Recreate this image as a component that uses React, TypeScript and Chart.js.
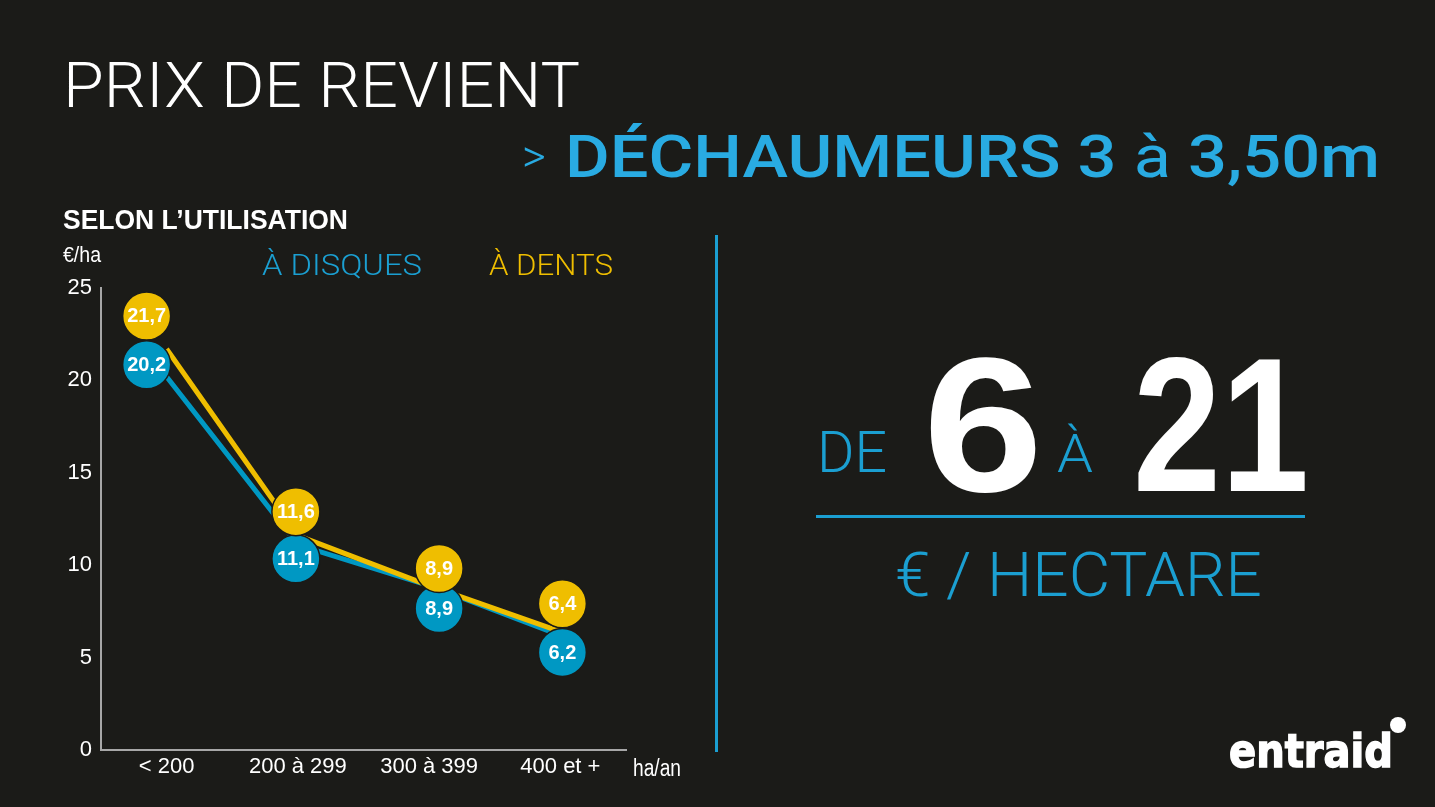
import React, { useEffect, useRef } from "react";
import { Chart, registerables } from "chart.js";

Chart.register(...registerables);

// ---- data ----
const categories = ["< 200", "200 à 299", "300 à 399", "400 et +"];
const seriesNames = ["À DISQUES", "À DENTS"];
const disquesValues = [20.2, 11.1, 8.9, 6.2];
const dentsValues = [21.7, 11.6, 8.9, 6.4];
const yTickValues = [0, 5, 10, 15, 20, 25];
const yUnit = "€/ha";
const xUnit = "ha/an";

// ---- styles ----
const BG = "#1b1b18";
const BLUE = "#0098c3";
const YELLOW = "#efbe00";
const CYAN = "#29abe2";
const BLUE_TXT = "#1b9fd1";
const AXIS = "#a7a7a7";
const NARROW = "'Liberation Sans Narrow', 'Arial Narrow', sans-serif";
const LIGHT = "Roboto, Lato, sans-serif";
const HEAVY = "'Liberation Sans', Arial, sans-serif";

// bubble label pixel offsets relative to each data point
const dentsBubbleOffset = [[-20, -33], [-2, -24], [10, -17], [2, -28]];
const disquesBubbleOffset = [[-20, -12], [-2, 14], [10, 23], [2, 17]];

const bubblePlugin = {
  id: "bubbles",
  afterDatasetsDraw(chart: any) {
    const ctx = chart.ctx;
    const offsets = [dentsBubbleOffset, disquesBubbleOffset];
    // draw blue first, yellow on top
    [1, 0].forEach((di) => {
      const meta = chart.getDatasetMeta(di);
      const ds = chart.data.datasets[di];
      meta.data.forEach((pt: any, i: number) => {
        const [dx, dy] = offsets[di][i];
        const cx = pt.x + dx;
        const cy = pt.y + dy;
        ctx.save();
        ctx.beginPath();
        ctx.arc(cx, cy, 24, 0, Math.PI * 2);
        ctx.fillStyle = ds.borderColor;
        ctx.fill();
        ctx.lineWidth = 1.5;
        ctx.strokeStyle = BG;
        ctx.stroke();
        ctx.fillStyle = "#ffffff";
        ctx.font = `bold 20px ${NARROW}`;
        ctx.textAlign = "center";
        ctx.textBaseline = "middle";
        const v = ds.data[i] as number;
        ctx.fillText(v.toFixed(1).replace(".", ","), cx, cy + 1);
        ctx.restore();
      });
    });
  },
};

function LineChart() {
  const ref = useRef<HTMLCanvasElement | null>(null);
  useEffect(() => {
    if (!ref.current) return;
    const chart = new Chart(ref.current, {
      type: "line",
      data: {
        labels: categories,
        datasets: [
          {
            label: seriesNames[1],
            data: dentsValues,
            borderColor: YELLOW,
            backgroundColor: YELLOW,
            borderWidth: 5,
            pointRadius: 0,
            tension: 0,
          },
          {
            label: seriesNames[0],
            data: disquesValues,
            borderColor: BLUE,
            backgroundColor: BLUE,
            borderWidth: 5,
            pointRadius: 0,
            tension: 0,
          },
        ],
      },
      options: {
        responsive: false,
        animation: false,
        devicePixelRatio: 1,
        layout: { padding: { left: 0, top: 288, right: 809, bottom: 0 } },
        plugins: {
          legend: { display: false },
          tooltip: { enabled: false },
        },
        scales: {
          x: {
            type: "category",
            offset: true,
            grid: { display: false, drawTicks: false },
            border: { display: true, color: AXIS, width: 2 },
            ticks: {
              color: "#ffffff",
              font: { family: NARROW, size: 22 },
              padding: 4,
              maxRotation: 0,
            },
            afterFit: (s: any) => {
              s.height = 57;
            },
          },
          y: {
            min: 0,
            max: 25,
            grid: { display: false, drawTicks: false },
            border: { display: true, color: AXIS, width: 2 },
            ticks: {
              color: "#ffffff",
              font: { family: NARROW, size: 22 },
              padding: 9,
              stepSize: 5,
            },
            afterBuildTicks: (s: any) => {
              s.ticks = yTickValues.map((v) => ({ value: v }));
            },
            afterFit: (s: any) => {
              s.width = 101;
            },
          },
        },
      },
      plugins: [bubblePlugin],
    } as any);
    return () => chart.destroy();
  }, []);
  return (
    <canvas
      ref={ref}
      width={1435}
      height={807}
      style={{ position: "absolute", left: 0, top: 0, width: 1435, height: 807 }}
    />
  );
}

export default function App() {
  return (
    <div
      style={{
        position: "fixed",
        left: 0,
        top: 0,
        width: 1435,
        height: 807,
        background: BG,
        overflow: "hidden",
      }}
    >
      <LineChart />
      <svg
        width={1435}
        height={807}
        style={{ position: "absolute", left: 0, top: 0, pointerEvents: "none" }}
      >
        <text x={63} y={107} fill="#ffffff" fontFamily={LIGHT} fontWeight={300} fontSize={63}
          textLength={517} lengthAdjust="spacingAndGlyphs">PRIX DE REVIENT</text>
        <text x={522} y={172} fill={CYAN} fontFamily={LIGHT} fontWeight={300} fontSize={46}>&gt;</text>
        <text x={565} y={177} fill={CYAN} fontFamily={LIGHT} fontWeight={500} fontSize={60}
          textLength={815} lengthAdjust="spacingAndGlyphs">
          <tspan>DÉCHAUMEURS 3 </tspan>
          <tspan fontWeight={400}>à</tspan>
          <tspan> 3,50m</tspan>
        </text>
        <text x={63} y={229} fill="#ffffff" fontFamily={NARROW} fontWeight={700} fontSize={27}
          textLength={285} lengthAdjust="spacingAndGlyphs">SELON L’UTILISATION</text>
        <text x={63} y={262} fill="#ffffff" fontFamily={NARROW} fontSize={22}
          textLength={38} lengthAdjust="spacingAndGlyphs">{yUnit}</text>
        <text x={262} y={275} fill={BLUE_TXT} fontFamily={LIGHT} fontWeight={300} fontSize={30}
          textLength={160} lengthAdjust="spacingAndGlyphs">{seriesNames[0]}</text>
        <text x={489} y={275} fill={YELLOW} fontFamily={LIGHT} fontWeight={300} fontSize={30}
          textLength={124} lengthAdjust="spacingAndGlyphs">{seriesNames[1]}</text>
        <text x={633} y={776} fill="#ffffff" fontFamily={NARROW} fontSize={23}
          textLength={48} lengthAdjust="spacingAndGlyphs">{xUnit}</text>

        <rect x={715} y={235} width={3} height={517} fill={BLUE_TXT} />
        <text x={817} y={472} fill={BLUE_TXT} fontFamily={LIGHT} fontWeight={300} fontSize={58}
          textLength={70} lengthAdjust="spacingAndGlyphs">DE</text>
        <text x={923} y={491} fill="#ffffff" fontFamily={HEAVY} fontWeight={700}
          fontSize={192} textLength={120} lengthAdjust="spacingAndGlyphs">6</text>
        <text x={1057} y={472} fill={BLUE_TXT} fontFamily={LIGHT} fontWeight={300} fontSize={54}
          textLength={36} lengthAdjust="spacingAndGlyphs">À</text>
        <text x={1133} y={491} fill="#ffffff" fontFamily={HEAVY} fontWeight={700}
          fontSize={192} textLength={176} lengthAdjust="spacingAndGlyphs">21</text>
        <rect x={816} y={515} width={489} height={3} fill={BLUE_TXT} />
        <text x={895} y={596} fill={BLUE_TXT} fontFamily={LIGHT} fontWeight={300} fontSize={61}
          textLength={367} lengthAdjust="spacingAndGlyphs">€ / HECTARE</text>

        <text x={1229} y={767} fill="#ffffff" stroke="#ffffff" strokeWidth={1.5}
          fontFamily="'DejaVu Sans', sans-serif" fontWeight={700}
          fontSize={46} textLength={164} lengthAdjust="spacingAndGlyphs">entraid</text>
        <circle cx={1398} cy={725} r={8} fill="#ffffff" />
      </svg>
    </div>
  );
}
